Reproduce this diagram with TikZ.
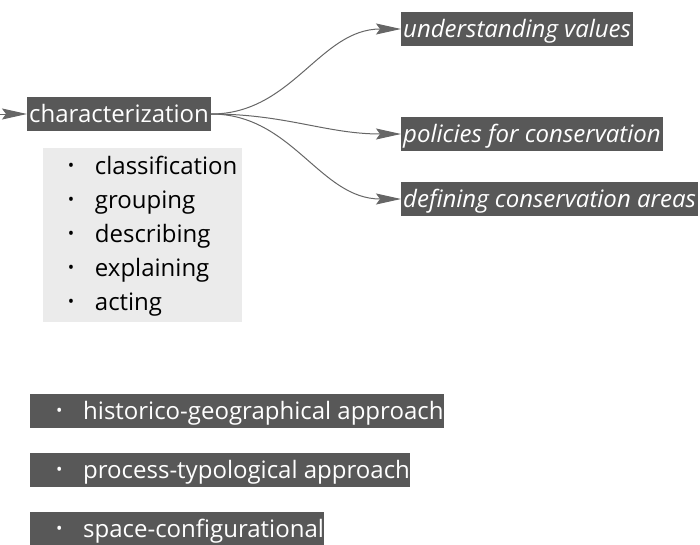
\documentclass[tikz,border=0pt]{standalone}
\usepackage{fontspec}
\setmainfont{Open Sans}
\usetikzlibrary{arrows.meta}

\definecolor{boxgray}{HTML}{585858}
\definecolor{listgray}{HTML}{EBEBEB}
\definecolor{linegray}{HTML}{666666}

\newcommand{\dotitem}{\raisebox{2.5pt}{\fontsize{17}{17}\selectfont •}}

\tikzset{
    darkbox/.style={fill=boxgray, text=white, inner xsep=2pt, inner ysep=3pt,
        text height=22pt, text depth=6pt, font=\fontsize{24}{28}\selectfont},
    goalbox/.style={darkbox, anchor=west, font=\fontsize{24}{28}\selectfont\itshape},
    barbox/.style={darkbox, anchor=west, inner xsep=0pt},
    listbox/.style={fill=listgray, anchor=north west, inner xsep=0pt, inner ysep=2pt,
        minimum width=199pt, font=\fontsize{24}{34}\selectfont},
    flow/.style={linegray, line width=1pt, -{Stealth[length=25pt, width=11pt, inset=4pt]}}
}

\begin{document}
\begin{tikzpicture}[x=1pt, y=1pt]
\clip (0,0) rectangle (700,-544);

\coordinate (in) at (0,-114);
\node[darkbox, anchor=west] (char) at (27,-114) {characterization};

\node[goalbox] (values) at (401,-29) {understanding values};
\node[goalbox] (policies) at (401,-134) {policies for conservation};
\node[goalbox] (areas) at (401,-199) {defining conservation areas};

\node[listbox] (steps) at (43,-148) {%
    \begin{tabular}{@{\hspace{24pt}}l@{}l@{\hspace{4pt}}}
    \makebox[27pt][l]{\dotitem} & classification \\
    \makebox[27pt][l]{\dotitem} & grouping \\
    \makebox[27pt][l]{\dotitem} & describing \\
    \makebox[27pt][l]{\dotitem} & explaining \\
    \makebox[27pt][l]{\dotitem} & acting
    \end{tabular}};

\node[barbox] (hist) at (30,-411) {\hspace{26pt}\makebox[27pt][l]{\dotitem}historico-geographical approach\hspace{3pt}};
\node[barbox] (proc) at (30,-470) {\hspace{26pt}\makebox[27pt][l]{\dotitem}process-typological approach\hspace{3pt}};
\node[barbox] (space) at (30,-529) {\hspace{26pt}\makebox[27pt][l]{\dotitem}space-configurational\hspace{3pt}};

\draw[flow] (in) -- (char);
\draw[flow] (char.east) to[out=0, in=180] (values.west);
\draw[flow] (char.east) to[out=0, in=180] (policies.west);
\draw[flow] (char.east) to[out=0, in=180] (areas.west);

\end{tikzpicture}
\end{document}
